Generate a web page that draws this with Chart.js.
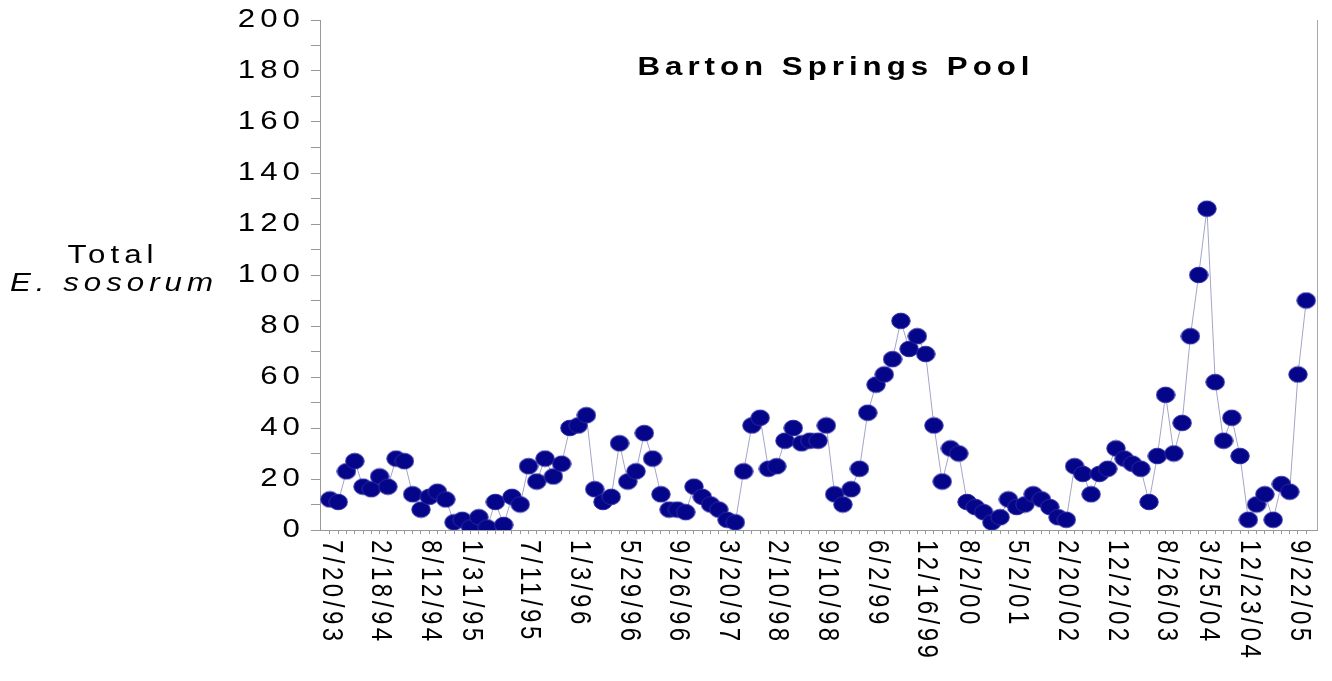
<!DOCTYPE html>
<html>
<head>
<meta charset="utf-8">
<title>Barton Springs Pool</title>
<script src="https://cdn.jsdelivr.net/npm/chart.js@4"></script>
<style>
  html, body { margin: 0; padding: 0; background: #fff; }
  canvas { display: block; }
</style>
</head>
<body>
<canvas id="grafico" width="1332" height="681"></canvas>
<script>
// Conteo total de E. sosorum en cada muestreo
const conteos = [
  12, 11, 23, 27, 17, 16, 21, 17, 28, 27,
  14, 8, 13, 15, 12, 3, 4, 1, 5, 1,
  11, 2, 13, 10, 25, 19, 28, 21, 26, 40,
  41, 45, 16, 11, 13, 34, 19, 23, 38, 28,
  14, 8, 8, 7, 17, 13, 10, 8, 4, 3,
  23, 41, 44, 24, 25, 35, 40, 34, 35, 35,
  41, 14, 10, 16, 24, 46, 57, 61, 67, 82,
  71, 76, 69, 41, 19, 32, 30, 11, 9, 7,
  3, 5, 12, 9, 10, 14, 12, 9, 5, 4,
  25, 22, 14, 22, 24, 32, 28, 26, 24, 11,
  29, 53, 30, 42, 76, 100, 126, 58, 35, 44,
  29, 4, 10, 14, 4, 18, 15, 61, 90
];

// Fechas que se muestran en el eje x y la muestra a la que corresponden
const fechas = [
  '7/20/93', '2/18/94', '8/12/94', '1/31/95', '7/11/95', '1/3/96', '5/29/96',
  '9/26/96', '3/20/97', '2/10/98', '9/10/98', '6/2/99', '12/16/99', '8/2/00',
  '5/2/01', '2/20/02', '12/2/02', '8/26/03', '3/25/04', '12/23/04', '9/22/05'
];
const posFechas = [0, 6, 12, 17, 24, 30, 36, 42, 48, 54, 60, 66, 72, 77, 83, 89, 95, 101, 106, 111, 117];

// Etiquetas del eje y (marcas menores cada 10)
const etiquetasY = [0, 20, 40, 60, 80, 100, 120, 140, 160, 180, 200];

const titulo = 'Barton Springs Pool';
const tituloY = ['Total', 'E. sosorum'];

const FUENTE = '"Liberation Sans", Arial, Helvetica, sans-serif';
const ESTIRA = 1.25; // el original esta estirado a lo ancho

// Punto elíptico
function crearPunto() {
  const c = document.createElement('canvas');
  c.width = 20;
  c.height = 18;
  const g = c.getContext('2d');
  g.beginPath();
  g.ellipse(10, 9, 9.2, 7.8, 0, 0, Math.PI * 2);
  g.fillStyle = '#05058a';
  g.fill();
  g.lineWidth = 1;
  g.strokeStyle = '#2a2aa2';
  g.stroke();
  return c;
}

// texto horizontal estirado
function textoAncho(ctx, txt, x, y) {
  ctx.save();
  ctx.translate(x, y);
  ctx.scale(ESTIRA, 1);
  ctx.fillText(txt, 0, 0);
  ctx.restore();
}

const textosExtra = {
  id: 'textosExtra',
  afterDraw(chart) {
    const { ctx, chartArea, scales } = chart;
    ctx.save();

    // borde derecho del área
    ctx.strokeStyle = '#a8a8a8';
    ctx.lineWidth = 1;
    ctx.beginPath();
    ctx.moveTo(chartArea.right + 0.5, chartArea.top);
    ctx.lineTo(chartArea.right + 0.5, chartArea.bottom);
    ctx.stroke();

    ctx.fillStyle = '#000';

    // etiquetas del eje y
    ctx.font = '25px ' + FUENTE;
    ctx.letterSpacing = '4px';
    ctx.textAlign = 'right';
    ctx.textBaseline = 'middle';
    etiquetasY.forEach(v => {
      textoAncho(ctx, String(v), chartArea.left - 15, scales.y.getPixelForValue(v));
    });

    // fechas giradas en sentido horario
    ctx.font = '24px ' + FUENTE;
    ctx.letterSpacing = '3.5px';
    ctx.textAlign = 'left';
    fechas.forEach((f, i) => {
      const x = scales.x.getPixelForValue(posFechas[i]);
      ctx.save();
      ctx.translate(x + 1, chartArea.bottom + 10);
      ctx.rotate(Math.PI / 2);
      ctx.scale(1, ESTIRA);
      ctx.fillText(f, 0, 0);
      ctx.restore();
    });

    // título dentro del área
    ctx.font = 'bold 25px ' + FUENTE;
    ctx.letterSpacing = '4px';
    ctx.textAlign = 'center';
    textoAncho(ctx, titulo, chartArea.left + 516, 68);

    // título del eje y
    ctx.font = '25px ' + FUENTE;
    textoAncho(ctx, tituloY[0], 113, 256);
    ctx.font = 'italic 25px ' + FUENTE;
    textoAncho(ctx, tituloY[1], 114, 284);

    ctx.restore();
  }
};

new Chart(document.getElementById('grafico'), {
  type: 'line',
  data: {
    datasets: [{
      label: 'Total E. sosorum',
      data: conteos.map((v, i) => ({ x: i, y: v })),
      borderColor: '#a4a4c8',
      borderWidth: 1,
      pointStyle: crearPunto(),
      pointRadius: 9,
      pointHoverRadius: 9,
      tension: 0
    }]
  },
  options: {
    responsive: false,
    animation: false,
    events: [],
    layout: { padding: { top: 20, right: 15, left: 0, bottom: 0 } },
    plugins: {
      legend: { display: false },
      tooltip: { enabled: false },
      title: { display: false }
    },
    scales: {
      x: {
        type: 'linear',
        min: -1.2,
        max: conteos.length - 1 + 1.3,
        afterFit: s => { s.height = 151; },
        afterBuildTicks: s => {
          s.ticks = s.ticks.filter(t => Number.isInteger(t.value) && t.value >= 0 && t.value < conteos.length);
        },
        ticks: { display: false, stepSize: 1, autoSkip: false },
        grid: { drawOnChartArea: false, drawTicks: true, tickLength: 4, color: '#999' },
        border: { color: '#999' }
      },
      y: {
        min: 0,
        max: 200,
        afterFit: s => { s.width = 320; },
        ticks: {
          stepSize: 10,
          autoSkip: false,
          font: { family: FUENTE, size: 25 },
          callback: () => ''
        },
        grid: { drawOnChartArea: false, drawTicks: true, tickLength: 9, color: '#999' },
        border: { color: '#999' }
      }
    }
  },
  plugins: [textosExtra]
});
</script>
</body>
</html>
